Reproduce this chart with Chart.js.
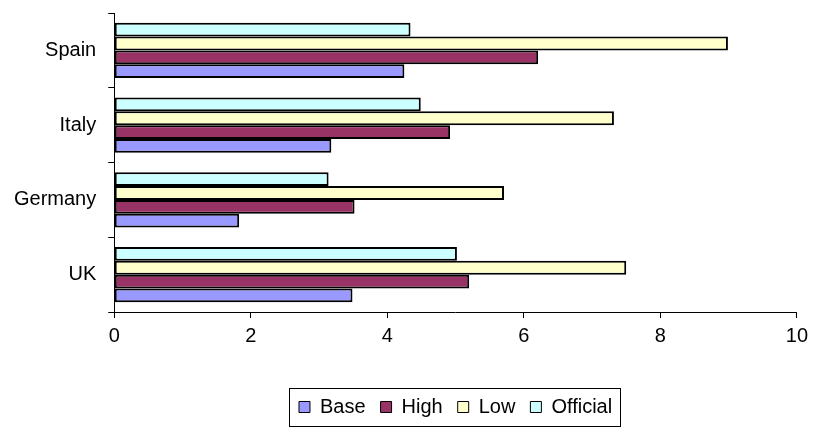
<!DOCTYPE html>
<html>
<head>
<meta charset="utf-8">
<script src="https://cdn.jsdelivr.net/npm/chart.js@4"></script>
<style>
html,body{margin:0;padding:0;background:#fff;}
#wrap{width:814px;height:430px;}
</style>
</head>
<body>
<div id="wrap"><canvas id="c" width="814" height="430"></canvas></div>
<script>
// categories listed top-to-bottom as drawn
const categories = ["Spain", "Italy", "Germany", "UK"];
const baseValues = [4.25, 3.18, 1.83, 3.49];
const highValues = [6.21, 4.92, 3.52, 5.20];
const lowValues = [8.99, 7.32, 5.71, 7.50];
const officialValues = [4.34, 4.49, 3.14, 5.02];
const xTicks = [0, 2, 4, 6, 8, 10];
const seriesNames = ["Base", "High", "Low", "Official"];
const seriesColors = ["#9999FF", "#993366", "#FFFFCC", "#CCFFFF"];
const seriesValues = [baseValues, highValues, lowValues, officialValues];

const legendTweak = {
  id: 'legendTweak',
  afterLayout(chart) {
    const lg = chart.legend, ca = chart.chartArea;
    if (!lg) return;
    lg.left = ca.left; lg.right = ca.right; lg.width = ca.right - ca.left;
  },
  afterDraw(chart) {
    const lg = chart.legend;
    if (!lg || !lg.legendHitBoxes || !lg.legendHitBoxes.length) return;
    const hb = lg.legendHitBoxes;
    let l = Infinity, r = -Infinity, t = Infinity, b = -Infinity;
    hb.forEach(h => { l = Math.min(l, h.left); r = Math.max(r, h.left + h.width); t = Math.min(t, h.top); b = Math.max(b, h.top + h.height); });
    const ctx = chart.ctx;
    ctx.save();
    ctx.strokeStyle = '#000';
    ctx.lineWidth = 1;
    ctx.strokeRect(Math.round(l - 10) + 0.5, Math.round(t - 9) + 0.5, Math.round(r - l + 18), Math.round(b - t + 18));
    ctx.restore();
  }
};

// datasets in drawing order top-to-bottom within a group: Official, Low, High, Base
const order = [3, 2, 1, 0];

new Chart(document.getElementById('c'), {
  type: 'bar',
  data: {
    labels: categories,
    datasets: order.map(i => ({
      label: seriesNames[i], data: seriesValues[i], backgroundColor: seriesColors[i],
      borderColor: '#000', borderWidth: 2, borderSkipped: false,
      categoryPercentage: 0.74, barPercentage: 1.0
    }))
  },
  options: {
    indexAxis: 'y',
    responsive: false,
    animation: false,
    layout: { padding: { top: 13, right: 14, left: 2, bottom: 3 } },
    scales: {
      x: {
        min: 0, max: 10,
        afterBuildTicks(axis) { axis.ticks = xTicks.map(v => ({ value: v })); },
        afterFit(axis) { axis.height += 28; },
        border: { display: true, color: '#000', width: 1 },
        grid: { display: true, drawOnChartArea: false, color: '#000', tickLength: 6 },
        ticks: { color: '#000', font: { family: 'Liberation Sans', size: 20 }, padding: 6 }
      },
      y: {
        afterFit(axis) { axis.paddingTop = 0; axis.paddingBottom = 0; },
        border: { display: true, color: '#000', width: 1 },
        grid: { display: true, drawOnChartArea: false, color: '#000', tickLength: 6, offset: true },
        ticks: { color: '#000', font: { family: 'Liberation Sans', size: 20 }, padding: 12 }
      }
    },
    plugins: {
      tooltip: { enabled: false },
      legend: {
        position: 'bottom',
        labels: {
          color: '#000',
          font: { family: 'Liberation Sans', size: 20 },
          boxWidth: 11, boxHeight: 11,
          padding: 15,
          generateLabels(chart) {
            return seriesNames.map((n, i) => ({
              text: n, fillStyle: seriesColors[i], strokeStyle: '#000', lineWidth: 1, datasetIndex: order.indexOf(i), hidden: false
            }));
          }
        }
      }
    }
  },
  plugins: [legendTweak]
});
</script>
</body>
</html>
